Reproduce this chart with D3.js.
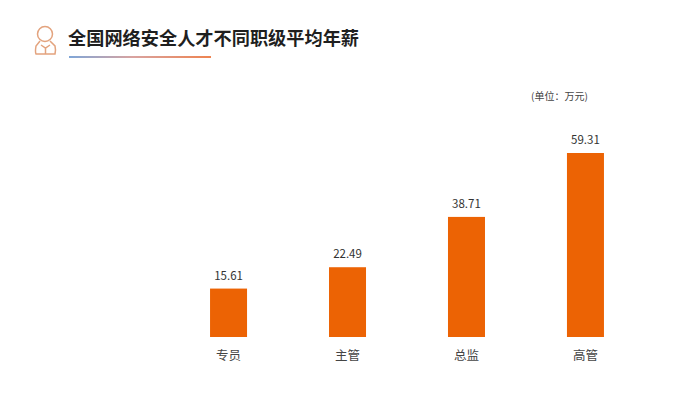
<!DOCTYPE html>
<html><head><meta charset="utf-8">
<script src="https://cdn.jsdelivr.net/npm/d3@7"></script>
<style>html,body{margin:0;padding:0;background:#fff}svg{display:block}
text{font-family:"Noto Sans CJK SC","Noto Sans",sans-serif}</style></head>
<body><svg id="c" width="676" height="395"></svg>
<script>
const categories=["专员","主管","总监","高管"];
const salaries=[15.61,22.49,38.71,59.31];
const titleText="全国网络安全人才不同职级平均年薪";
const unitText="(单位：万元)";
const svg=d3.select("#c");
const x=d3.scaleBand().domain(categories).range([169,645]).paddingInner(0.689).paddingOuter(0.345);
const y=d3.scaleLinear().domain([0,59.31]).range([337,153]);
const defs=svg.append("defs");
const g=defs.append("linearGradient").attr("id","ul");
g.append("stop").attr("offset","0").attr("stop-color","#7fa6d8");
g.append("stop").attr("offset","0.45").attr("stop-color","#d9a3a0");
g.append("stop").attr("offset","1").attr("stop-color","#ee8350");
svg.append("text").attr("x",68).attr("y",45).attr("font-size",18.2).attr("font-weight",700).attr("fill","#1f1f1f").text(titleText);
svg.append("rect").attr("x",69).attr("y",56).attr("width",142).attr("height",2).attr("fill","url(#ul)");
const ic=svg.append("g").attr("fill","none").attr("stroke","#e3a37e").attr("stroke-width",1.5);
ic.append("circle").attr("cx",45).attr("cy",34).attr("r",7.5);
ic.append("path").attr("d","M40 41 L36 46 Q35 52 36 54 L55 54 Q56 50 55 46 L50 41 M41 45 L45.5 48 L50 45 M45.5 48 V54");
svg.append("text").attr("x",531).attr("y",100).attr("font-size",10).attr("fill","#444").text(unitText);
svg.selectAll("rect.bar").data(salaries).join("rect").attr("class","bar")
 .attr("x",(d,i)=>x(categories[i])).attr("width",x.bandwidth())
 .attr("y",d=>y(d)).attr("height",d=>y(0)-y(d)).attr("fill","#ec6304");
svg.selectAll("text.val").data(salaries).join("text").attr("class","val")
 .attr("x",(d,i)=>x(categories[i])+x.bandwidth()/2).attr("y",d=>y(d)-9)
 .attr("text-anchor","middle").attr("font-size",11.5).attr("fill","#333").text(d=>d.toFixed(2));
const axis=svg.append("g").attr("transform","translate(0,337)")
 .call(d3.axisBottom(x).tickSize(0).tickPadding(14));
axis.select(".domain").remove();
axis.selectAll("text").attr("font-size",12.5).attr("fill","#444").attr("font-family",'"Noto Sans CJK SC",sans-serif');
</script></body></html>
